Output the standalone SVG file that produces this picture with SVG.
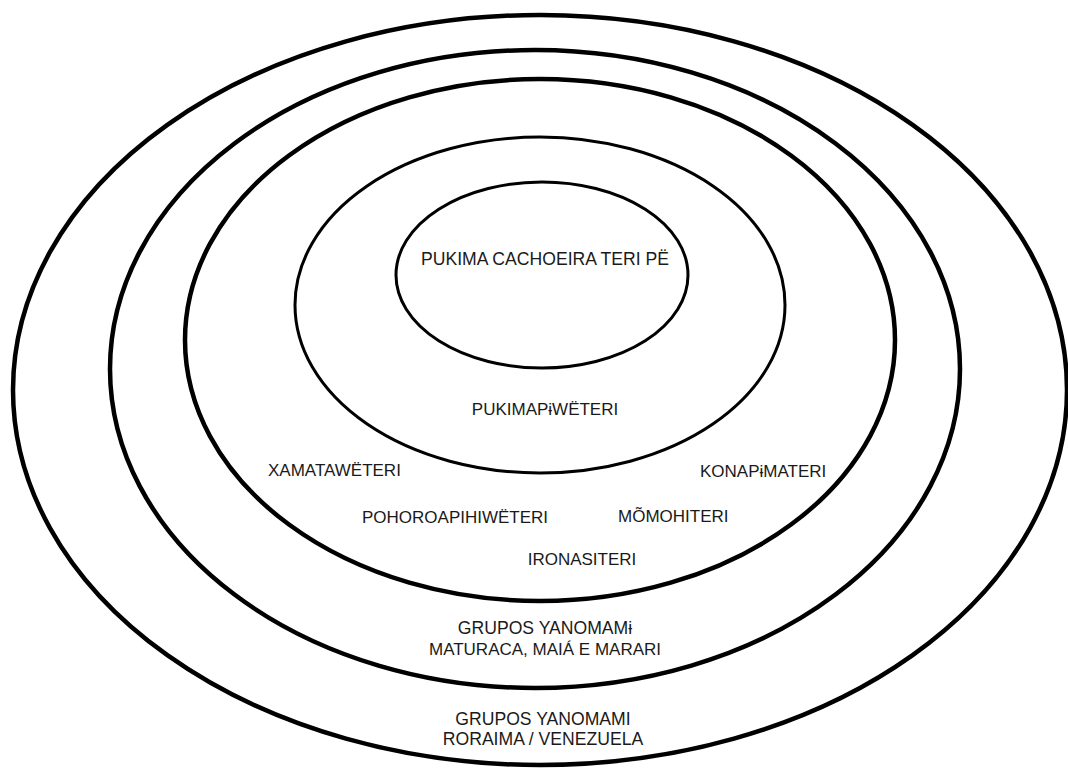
<svg xmlns="http://www.w3.org/2000/svg" width="1068" height="769" viewBox="0 0 1068 769">
<style>
.thick{fill:none;stroke:#000;stroke-width:4.5}
.thin{fill:none;stroke:#000;stroke-width:3}
text{font-family:"Liberation Sans",Arial,sans-serif;font-size:17px;fill:#1a1a1a}
.c{text-anchor:middle}
.l{font-size:17.6px}
</style>
<rect width="1068" height="769" fill="#fff"/>
<g id="ring-roraima">
<ellipse class="thick" cx="540" cy="390" rx="527" ry="375"/>
<text class="c l" x="543" y="725">GRUPOS YANOMAMI</text>
<text class="c l" x="543" y="745">RORAIMA / VENEZUELA</text>
</g>
<g id="ring-maturaca">
<ellipse class="thick" cx="535" cy="369" rx="425" ry="319"/>
<text class="c l" x="545" y="634">GRUPOS YANOMAMɨ</text>
<text class="c" x="545" y="655">MATURACA, MAIÁ E MARARI</text>
</g>
<g id="ring-groups">
<ellipse class="thick" cx="540" cy="340" rx="355" ry="261"/>
<text x="268" y="476">XAMATAWËTERI</text>
<text x="700" y="477">KONAPɨMATERI</text>
<text x="362" y="523">POHOROAPIHIWËTERI</text>
<text x="618" y="522">MÕMOHITERI</text>
<text class="c" x="582" y="565">IRONASITERI</text>
</g>
<g id="ring-pukimapiweteri">
<ellipse class="thin" cx="540" cy="305" rx="245" ry="168"/>
<text class="c" x="545" y="415">PUKIMAPɨWËTERI</text>
</g>
<g id="ring-pukima">
<ellipse class="thin" cx="542" cy="275" rx="146" ry="93"/>
<text class="c l" x="545" y="265">PUKIMA CACHOEIRA TERI PË</text>
</g>
<g id="connectors"/>
</svg>
